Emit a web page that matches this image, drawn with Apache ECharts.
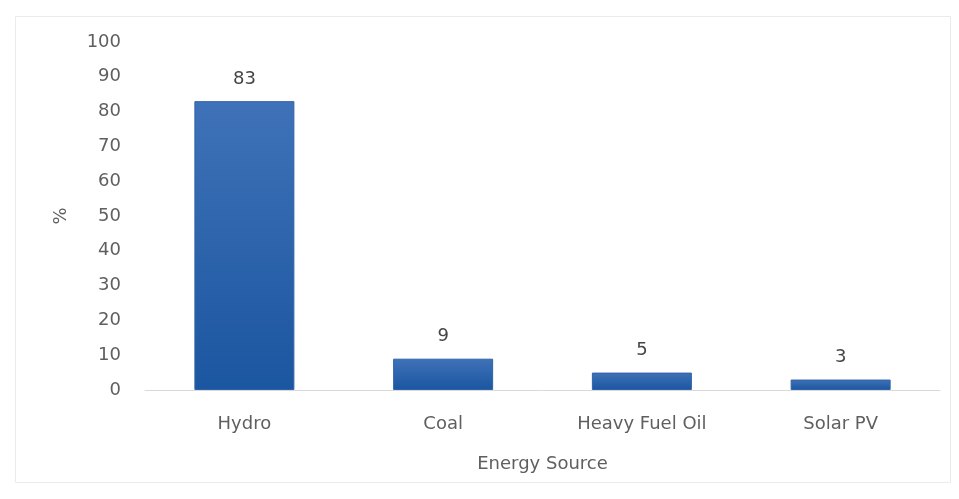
<!DOCTYPE html>
<html><head><meta charset="utf-8">
<script src="https://cdn.jsdelivr.net/npm/echarts@6/dist/echarts.min.js"></script>
<style>html,body{margin:0;padding:0;background:#fff}#c{width:959px;height:499px}</style>
</head><body><div id="c"></div>
<script>
const categories = ['Hydro', 'Coal', 'Heavy Fuel Oil', 'Solar PV'];
const shares = [83, 9, 5, 3];
const yTicks = [0, 10, 20, 30, 40, 50, 60, 70, 80, 90, 100];

const chart = echarts.init(document.getElementById('c'), null, {renderer: 'canvas'});
const font = 'DejaVu Sans, sans-serif';
const fs = 18;
chart.setOption({
  animation: false,
  backgroundColor: '#fff',
  graphic: [{
    type: 'rect', left: 13, top: 14, z: -1,
    shape: {width: 935, height: 466},
    style: {fill: 'none', stroke: '#ebebeb', lineWidth: 1}
  }],
  grid: {left: 145, right: 19, top: 42, bottom: 109},
  xAxis: {
    type: 'category', data: categories,
    name: 'Energy Source', nameLocation: 'middle', nameGap: 65,
    nameTextStyle: {color: '#5f5f5f', fontSize: fs, fontFamily: font},
    axisLine: {lineStyle: {color: '#d9d9d9', width: 1}},
    axisTick: {show: false},
    axisLabel: {color: '#5f5f5f', fontSize: fs, fontFamily: font, margin: 25}
  },
  yAxis: {
    type: 'value', min: yTicks[0], max: yTicks[yTicks.length - 1], interval: 10,
    name: '%', nameLocation: 'middle', nameGap: 75, nameRotate: 90,
    nameTextStyle: {color: '#5f5f5f', fontSize: fs, fontFamily: font},
    axisLine: {show: false}, axisTick: {show: false},
    splitLine: {show: false},
    axisLabel: {color: '#5f5f5f', fontSize: fs, fontFamily: font, margin: 24}
  },
  series: [{
    type: 'bar', data: shares, barWidth: 100,
    itemStyle: {
      color: new echarts.graphic.LinearGradient(0, 0, 0, 1, [
        {offset: 0, color: '#3f72b8'},
        {offset: 1, color: '#1b56a0'}
      ]),
      borderColor: '#2f62a8', borderWidth: 1
    },
    label: {show: true, position: 'top', distance: 13, color: '#454545', fontSize: fs, fontFamily: font}
  }]
});
</script></body></html>
